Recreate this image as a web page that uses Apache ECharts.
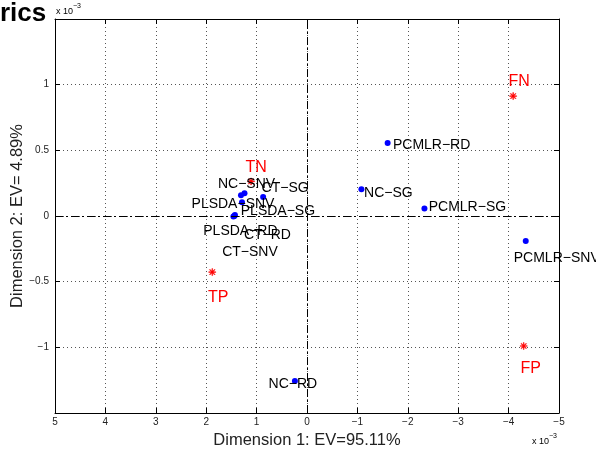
<!DOCTYPE html>
<html>
<head>
<meta charset="utf-8">
<script src="https://cdn.jsdelivr.net/npm/echarts@6/dist/echarts.min.js"></script>
<style>
  html, body { margin: 0; padding: 0; background: #fff; }
  #chart { width: 596px; height: 455px; }
</style>
</head>
<body>
<div id="chart"></div>
<script>
// values in units of 1e-3
const methodNames = ['PCMLR-RD', 'NC-SG', 'PCMLR-SG', 'PCMLR-SNV', 'NC-RD',
  'NC-SNV', 'CT-SG', 'PLSDA-SNV', 'PLSDA-SG', 'PLSDA-RD', 'CT-RD', 'CT-SNV'];
const methodDim1 = [-1.60, -1.08, -2.33, -4.34, 0.24, 1.24, 0.87, 1.29, 1.43, 1.46, 1.44, 1.31];
const methodDim2 = [0.556, 0.204, 0.058, -0.19, -1.256, 0.174, 0.145, 0.104, 0.008, -0.003, 0.0, 0.158];
// label placement (pixel offsets of label centre from the point)
const methodLabelOffsets = [[44, 2], [27, 4], [43, -1], [31, 17], [-2, 3],
  [2, -9], [22, -9], [-9, 2], [43, -4], [7, 15], [33, 19], [9, 57]];

const refNames = ['FN', 'TN', 'TP', 'FP'];
const refDim1 = [-4.09, 1.11, 1.88, -4.30];
const refDim2 = [0.913, 0.263, -0.427, -0.99];
const refLabelOffsets = [[6, -14], [5, -14], [6, 26], [7, 23]];

const xTicks = { min: -5, max: 5, interval: 1 };
const yTicks = { min: -1.5, max: 1.5, interval: 0.5 };

const FONT = '"Liberation Sans", Arial, Helvetica, sans-serif';
const minus = s => String(s).replace(/-/g, '\u2212');

const asterisk = 'path://M4.5 0h1v10h-1z M0 4.5h10v1h-10z M1.7 1L9 8.3L8.3 9L1 1.7z M8.3 1L9 1.7L1.7 9L1 8.3z';

const chart = echarts.init(document.getElementById('chart'), null, { renderer: 'canvas' });

const tickStyle = { show: true, inside: true, length: 5, lineStyle: { color: '#000', width: 1 } };
const expText = {
  text: '{a|x 10}{b|\u22123}',
  rich: {
    a: { fontFamily: FONT, fontSize: 9, color: '#222', padding: [4, 0, 0, 0] },
    b: { fontFamily: FONT, fontSize: 7, color: '#222', verticalAlign: 'top' }
  }
};

const option = {
  animation: false,
  backgroundColor: '#fff',
  title: {
    text: 'rics',
    left: 0,
    top: 1,
    padding: 0,
    textStyle: { fontFamily: FONT, fontSize: 26, fontWeight: 'bold', color: '#000' }
  },
  grid: { left: 55, right: 37, top: 19, bottom: 42, containLabel: false, outerBoundsMode: 'none' },
  xAxis: [
    {
      type: 'value',
      inverse: true,
      min: xTicks.min, max: xTicks.max, interval: xTicks.interval,
      name: 'Dimension 1: EV=95.11%',
      nameLocation: 'middle',
      nameGap: 19,
      nameMoveOverlap: false,
      nameTextStyle: { fontFamily: FONT, fontSize: 16.5, color: '#222' },
      axisLine: { onZero: false, lineStyle: { color: '#000', width: 1 } },
      axisTick: tickStyle,
      axisLabel: { fontFamily: FONT, fontSize: 10, color: '#222', margin: 4, formatter: v => minus(v) },
      splitLine: { show: true, lineStyle: { color: '#555', type: [1, 3], width: 1 } }
    },
    {
      type: 'value',
      position: 'top',
      inverse: true,
      min: xTicks.min, max: xTicks.max, interval: xTicks.interval,
      axisLine: { onZero: false, lineStyle: { color: '#000', width: 1 } },
      axisTick: tickStyle,
      axisLabel: { show: false },
      splitLine: { show: false }
    }
  ],
  yAxis: [
    {
      type: 'value',
      min: yTicks.min, max: yTicks.max, interval: yTicks.interval,
      name: 'Dimension 2: EV= 4.89%',
      nameLocation: 'middle',
      nameGap: 29,
      nameMoveOverlap: false,
      nameTextStyle: { fontFamily: FONT, fontSize: 16.5, color: '#222' },
      axisLine: { onZero: false, lineStyle: { color: '#000', width: 1 } },
      axisTick: tickStyle,
      axisLabel: {
        fontFamily: FONT, fontSize: 10, color: '#222', margin: 6,
        formatter: v => (Math.abs(v) > 1.25 ? '' : minus(v))
      },
      splitLine: { show: true, lineStyle: { color: '#555', type: [1, 3], width: 1 } }
    },
    {
      type: 'value',
      position: 'right',
      min: yTicks.min, max: yTicks.max, interval: yTicks.interval,
      axisLine: { onZero: false, lineStyle: { color: '#000', width: 1 } },
      axisTick: tickStyle,
      axisLabel: { show: false },
      splitLine: { show: false }
    }
  ],
  graphic: [
    { type: 'text', left: 56, top: 3, silent: true, style: expText },
    { type: 'text', left: 532, top: 433, silent: true, style: expText }
  ],
  series: [
    {
      type: 'scatter',
      name: 'methods',
      symbol: 'circle',
      symbolSize: 6,
      itemStyle: { color: '#0000ff', opacity: 1 },
      data: methodNames.map((n, i) => ({
        name: n,
        value: [methodDim1[i], methodDim2[i]],
        label: { offset: methodLabelOffsets[i] }
      })),
      label: {
        show: true,
        position: 'inside',
        formatter: p => minus(p.name),
        fontFamily: FONT, fontSize: 14, color: '#000', textBorderWidth: 0
      },
      markLine: {
        silent: true,
        symbol: 'none',
        label: { show: false },
        lineStyle: { color: '#000', width: 1, type: [8, 3, 2, 3] },
        data: [{ xAxis: 0 }, { yAxis: 0 }]
      },
      z: 3
    },
    {
      type: 'scatter',
      name: 'reference',
      symbol: asterisk,
      symbolSize: 7,
      itemStyle: { color: '#ff0000', borderColor: '#ff0000', borderWidth: 0.5, opacity: 1 },
      data: refNames.map((n, i) => ({
        name: n,
        value: [refDim1[i], refDim2[i]],
        label: { offset: refLabelOffsets[i] }
      })),
      label: {
        show: true,
        position: 'inside',
        formatter: p => p.name,
        fontFamily: FONT, fontSize: 16, color: '#ff0000', textBorderWidth: 0
      },
      z: 3
    }
  ]
};

chart.setOption(option);
</script>
</body>
</html>
